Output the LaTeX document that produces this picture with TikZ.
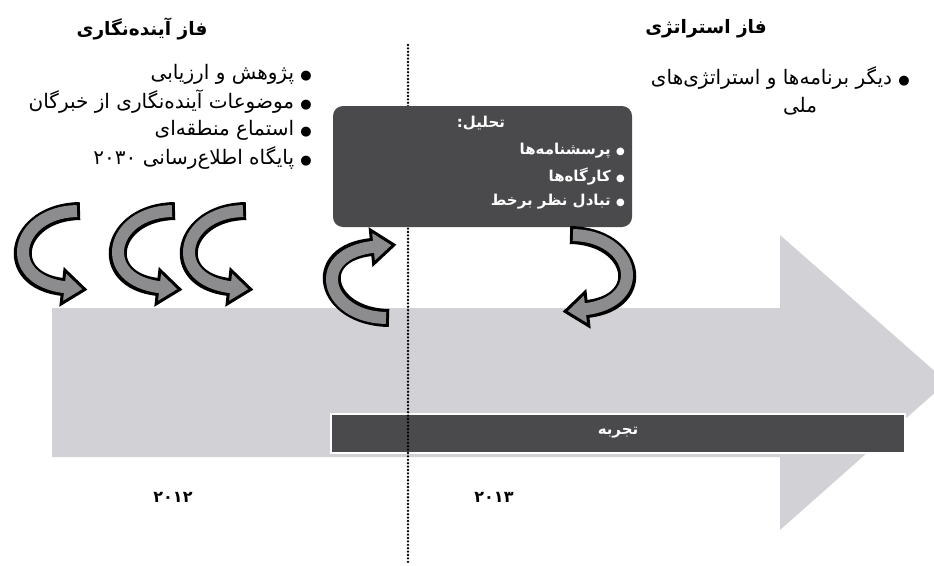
\documentclass[tikz,border=0pt]{standalone}
\usepackage{fontspec}
\newfontfamily\fa[Script=Arabic]{DejaVu Sans}
\TeXXeTstate=1
\usetikzlibrary{calc}
\definecolor{bodygrey}{HTML}{D2D2D6}
\definecolor{darkbox}{HTML}{4A4A4C}
\definecolor{arrowgrey}{HTML}{8C8C8E}
\newcommand{\bul}{{\fontsize{13}{13}\selectfont ●}}
\newcommand{\sbul}{{\fontsize{10}{10}\selectfont ●}}
\newcommand{\cArrow}[4]{%
  \draw[line width=18pt, black] (#1) .. controls (#2) and (#3) .. (#4);
  \path let \p1=($(#4)-(#3)$), \n1={atan2(\y1,\x1)} in
    coordinate (hA) at ($(#4)+(\n1+90:17pt)$)
    coordinate (hT) at ($(#4)+(\n1:22pt)$)
    coordinate (hB) at ($(#4)+(\n1-90:17pt)$);
  \filldraw[fill=arrowgrey, draw=black, line width=3pt, line join=miter] (hA) -- (hT) -- (hB) -- cycle;
  \draw[line width=12pt, arrowgrey, shorten <=3pt, shorten >=-3pt] (#1) .. controls (#2) and (#3) .. (#4);
}
\tikzset{
  listtext/.style={anchor=east, inner sep=0pt, font=\fa\fontsize{20}{22}\selectfont},
  titletext/.style={inner sep=0pt, font=\fa\bfseries\fontsize{18.5}{20}\selectfont},
  boxtext/.style={anchor=east, inner sep=0pt, text=white, font=\fa\bfseries\fontsize{15}{17}\selectfont},
  yeartext/.style={inner sep=0pt, font=\fa\bfseries\fontsize{16}{17}\selectfont},
  darkpanel/.style={fill=darkbox, draw=none, rounded corners=10pt, minimum width=299pt, minimum height=121pt, inner sep=0pt},
  barbox/.style={fill=darkbox, draw=white, line width=2pt, minimum width=574pt, minimum height=39pt, inner sep=0pt, text=white, font=\fa\bfseries\fontsize{15}{17}\selectfont},
  divider/.style={line width=2.6pt, line cap=round, dash pattern=on 0pt off 3.4pt, black},
}
\begin{document}
\begin{tikzpicture}[x=1pt,y=-1pt]
\useasboundingbox (0,0) rectangle (934,565);
\clip (0,0) rectangle (934,565);
\fill[white] (0,0) rectangle (934,565);
% big timeline arrow
\fill[bodygrey] (52,308) -- (780,308) -- (780,235) -- (947,382) -- (780,530) -- (780,457) -- (52,457) -- cycle;
% experience bar
\node[barbox] (bar) at (618,433) {\beginR تجربه\endR};
% divider
\coordinate (dtop) at (408,45);
\coordinate (dbot) at (408,562);
\draw[divider] (dtop) -- (dbot);
% analysis box
\node[darkpanel] (panel) at (482.5,166.5) {};
\node[boxtext, anchor=center] (an) at (481,123) {\beginR تحلیل:\endR};
\node[boxtext] (b1) at (625,151) {\beginR\sbul{} پرسشنامه^^^^200cها\endR};
\node[boxtext] (b2) at (625,177) {\beginR\sbul{} کارگاه^^^^200cها\endR};
\node[boxtext] (b3) at (625,202) {\beginR\sbul{} تبادل نظر برخط\endR};
% curved arrows
\cArrow{80,211}{15,212}{0,280}{63,287}
\cArrow{175,211}{110,212}{95,280}{158,287}
\cArrow{246,211}{181,212}{166,280}{229,287}
\cArrow{389,318}{324,317}{309,253}{372,247}
\cArrow{570,235}{635,236}{650,302}{587,309}
% titles
\node[titletext] (t1) at (142,29) {\beginR فاز آینده^^^^200cنگاری\endR};
\node[titletext] (t2) at (706,29) {\beginR فاز استراتژی\endR};
% left list
\node[listtext] (l1) at (312,74) {\beginR\bul{} پژوهش و ارزیابی\endR};
\node[listtext] (l2) at (312,102) {\beginR\bul{} موضوعات آینده^^^^200cنگاری از خبرگان\endR};
\node[listtext] (l3) at (312,130) {\beginR\bul{} استماع منطقه^^^^200cای\endR};
\node[listtext] (l4) at (312,158) {\beginR\bul{} پایگاه اطلاع^^^^200cرسانی ۲۰۳۰\endR};
% right list
\node[listtext] (r1) at (910,78) {\beginR\bul{} دیگر برنامه^^^^200cها و استراتژی^^^^200cهای\endR};
\node[listtext, anchor=center] (r2) at (800,106) {\beginR ملی\endR};
% years
\node[yeartext] (y1) at (173,497) {۲۰۱۲};
\node[yeartext] (y2) at (494,497) {۲۰۱۳};
\end{tikzpicture}
\end{document}
